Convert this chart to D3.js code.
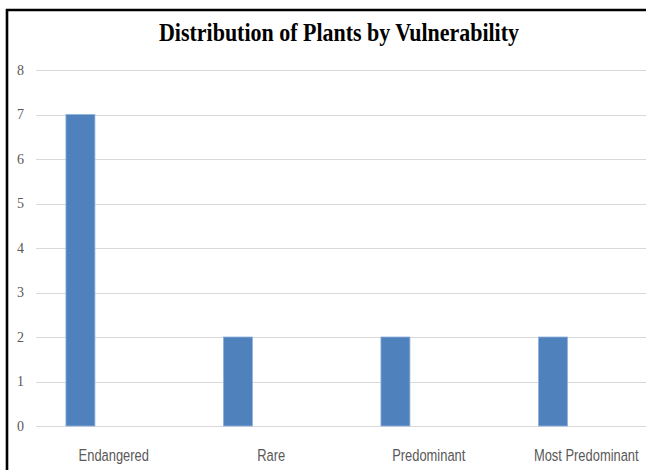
<!DOCTYPE html>
<html>
<head>
<meta charset="utf-8">
<script src="https://cdn.jsdelivr.net/npm/d3@7"></script>
<style>
  html, body { margin: 0; padding: 0; background: #ffffff; }
  svg { display: block; }
</style>
</head>
<body>
<svg id="chart" width="646" height="470"></svg>
<script>
const title = "Distribution of Plants by Vulnerability";
const categories = ["Endangered", "Rare", "Predominant", "Most Predominant"];
const values = [7, 2, 2, 2];
const yTicks = [0, 1, 2, 3, 4, 5, 6, 7, 8];

const W = 646, H = 470;
const svg = d3.select("#chart");

svg.append("rect").attr("width", W).attr("height", H).attr("fill", "#ffffff");

const x = d3.scaleBand().domain(categories).range([36, 666]).padding(0);
const y = d3.scaleLinear().domain([0, 8]).range([426, 70]);
const bw = x.bandwidth();

// gridlines
svg.append("g").selectAll("line").data(yTicks).join("line")
  .attr("x1", 36).attr("x2", W)
  .attr("y1", d => Math.round(y(d)) + 0.5).attr("y2", d => Math.round(y(d)) + 0.5)
  .attr("stroke", "#d9d9d9").attr("stroke-width", 1.2);

// y tick labels
svg.append("g").selectAll("text").data(yTicks).join("text")
  .attr("x", 24).attr("y", d => y(d)).attr("dy", "0.35em")
  .attr("text-anchor", "end")
  .attr("font-family", "Liberation Serif, serif")
  .attr("font-size", 14)
  .attr("fill", "#595959")
  .text(d => d);

// bars
svg.append("g").selectAll("rect").data(categories).join("rect")
  .attr("x", (d) => x(d) + bw * 0.19)
  .attr("width", bw * 0.184)
  .attr("y", (d, i) => y(values[i]))
  .attr("height", (d, i) => y(0) - y(values[i]))
  .attr("fill", "#4f81bd")
  .attr("stroke", "#8eb1dc")
  .attr("stroke-width", 0.8);

// category labels
svg.append("g").selectAll("text").data(categories).join("text")
  .attr("transform", d => `translate(${x(d) + bw / 2 - 1},461) scale(0.76,1)`)
  .attr("text-anchor", "middle")
  .attr("font-family", "Liberation Sans, Arial, sans-serif")
  .attr("font-size", 17)
  .attr("fill", "#595959")
  .text(d => d);

// title
svg.append("text")
  .attr("x", 339).attr("y", 41)
  .attr("text-anchor", "middle")
  .attr("font-family", "Liberation Serif, 'Times New Roman', serif")
  .attr("font-weight", "bold")
  .attr("font-size", 25)
  .attr("fill", "#000000")
  .attr("textLength", 360)
  .attr("lengthAdjust", "spacingAndGlyphs")
  .text(title);

// frame (top and left edges)
svg.append("path")
  .attr("d", `M7,${H} L7,10 L${W},10`)
  .attr("fill", "none")
  .attr("stroke", "#000000")
  .attr("stroke-width", 2.6);
</script>
</body>
</html>
